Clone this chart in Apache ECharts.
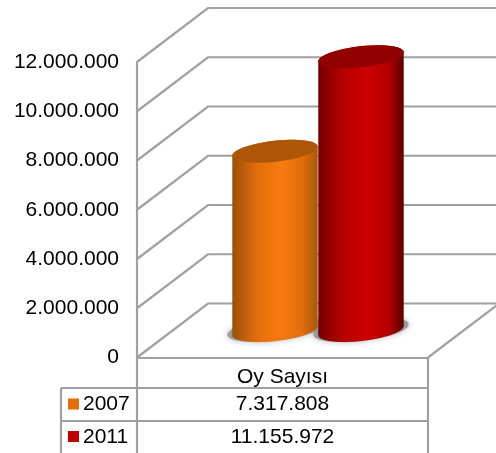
<!DOCTYPE html>
<html>
<head>
<meta charset="utf-8">
<title>Oy Sayısı</title>
<script src="https://cdn.jsdelivr.net/npm/echarts@6/dist/echarts.min.js"></script>
<style>
html, body { margin: 0; padding: 0; background: #fff; overflow: hidden; }
#chart { width: 496px; height: 453px; }
</style>
</head>
<body>
<div id="chart"></div>
<script>
var categories = ['Oy Sayısı'];
var seriesNames = ['2007', '2011'];
var votes2007 = [7317808];
var votes2011 = [11155972];
var axisTicks = [0, 2000000, 4000000, 6000000, 8000000, 10000000, 12000000];

var FONT = '"Liberation Sans", Arial, sans-serif';
var FONT_SIZE = 21;
var LINE = '#a0a0a0';
var LINE_WIDTH = 2.2;
var DEPTH_X = 71, DEPTH_Y = -54;
var BAR_RATIO = 0.2955;

var cylinderStyles = [
    { side: ['#9a5007', '#e56f0c', '#f97a10', '#e06c0b', '#a55a0c'], top: '#af5606', swatch: '#e46c0a' },
    { side: ['#760000', '#b80000', '#cc0000', '#b40000', '#5e0000'], top: '#920000', swatch: '#c00000' }
];

// dots as thousands separator
function dotted(v) {
    return String(v).replace(/\B(?=(\d{3})+$)/g, '.');
}

// points of a tilted ellipse, t in degrees
function ellipsePoints(cx, cy, a, b, from, to) {
    var tilt = 6.5 * Math.PI / 180;
    var pts = [];
    var steps = 48;
    for (var i = 0; i <= steps; i++) {
        var t = (from + (to - from) * i / steps) * Math.PI / 180;
        var u = a * Math.cos(t), v = b * Math.sin(t);
        pts.push([cx + u * Math.cos(tilt) + v * Math.sin(tilt), cy - u * Math.sin(tilt) + v * Math.cos(tilt)]);
    }
    return pts;
}

// back wall and floor lines, one item per axis tick
function renderWall(params, api) {
    var grid = params.coordSys;
    var y = api.coord([0, api.value(1)])[1];
    var left = grid.x, right = grid.x + grid.width;
    var style = { stroke: LINE, lineWidth: LINE_WIDTH, fill: null };
    var children = [{
        type: 'polyline',
        shape: { points: [[left, y], [left + DEPTH_X, y + DEPTH_Y], [right + DEPTH_X, y + DEPTH_Y]] },
        style: style
    }];
    if (api.value(1) === 0) {
        children.push({
            type: 'line',
            shape: { x1: right, y1: y, x2: right + DEPTH_X, y2: y + DEPTH_Y },
            style: style
        });
    }
    return { type: 'group', children: children };
}

function cylinderRenderer(index) {
    return function (params, api) {
        var bandWidth = api.size([1, 0])[0];
        var barWidth = bandWidth * BAR_RATIO;
        var top = api.coord([api.value(0), api.value(1)]);
        var base = api.coord([api.value(0), 0]);
        var cx = top[0] + (index - 0.5) * barWidth + DEPTH_X / 2;
        var topY = top[1] + DEPTH_Y / 2 + 1;
        var baseY = base[1] + DEPTH_Y / 2;
        var a = barWidth / 2, b = 10.5;
        var s = cylinderStyles[index];
        var body = ellipsePoints(cx, baseY, a, b, 0, 180).concat(ellipsePoints(cx, topY, a, b, 180, 360));
        var stops = [];
        var offsets = [0, 0.3, 0.58, 0.82, 1];
        for (var i = 0; i < s.side.length; i++) {
            stops.push({ offset: offsets[i], color: s.side[i] });
        }
        return {
            type: 'group',
            children: [{
                type: 'polygon',
                shape: { points: ellipsePoints(cx, baseY - 1, a + 5, b + 1, 0, 360) },
                style: { fill: 'rgba(130,130,130,0.7)', shadowBlur: 6, shadowColor: 'rgba(120,120,120,0.7)' }
            }, {
                type: 'polygon',
                shape: { points: body },
                style: { fill: new echarts.graphic.LinearGradient(0, 0, 1, 0, stops) }
            }, {
                type: 'polygon',
                shape: { points: ellipsePoints(cx, topY, a, b, 0, 360) },
                style: { fill: s.top }
            }]
        };
    };
}

// data table below the plot
function tableGraphics(grid) {
    var left = grid.left, right = grid.left + grid.width;
    var keyLeft = 61;
    var floorY = grid.top + grid.height;
    var rowY = [388, 421, 453];
    var line = { stroke: LINE, lineWidth: LINE_WIDTH };
    var els = [];
    function seg(x1, y1, x2, y2) {
        els.push({ type: 'line', shape: { x1: x1, y1: y1, x2: x2, y2: y2 }, style: line, z: 5 });
    }
    seg(left, floorY, left, rowY[2]);
    seg(right, floorY, right, rowY[2]);
    seg(keyLeft, rowY[0], keyLeft, rowY[2]);
    seg(keyLeft, rowY[0], right, rowY[0]);
    seg(keyLeft, rowY[1], right, rowY[1]);
    var rows = [votes2007, votes2011];
    for (var i = 0; i < rows.length; i++) {
        var mid = (rowY[i] + rowY[i + 1]) / 2;
        els.push({
            type: 'rect',
            shape: { x: 68, y: mid - 6, width: 11, height: 11 },
            style: { fill: cylinderStyles[i].swatch },
            z: 6
        });
        els.push({
            type: 'text',
            x: 83,
            y: mid,
            style: { text: seriesNames[i], font: FONT_SIZE + 'px ' + FONT, fill: '#000', textVerticalAlign: 'middle' },
            z: 6
        });
        els.push({
            type: 'text',
            x: (left + right) / 2,
            y: mid,
            style: { text: dotted(rows[i][0]), font: FONT_SIZE + 'px ' + FONT, fill: '#000', textAlign: 'center', textVerticalAlign: 'middle' },
            z: 6
        });
    }
    return els;
}

var gridBox = { left: 137, top: 62, width: 291, height: 295.5 };

var wallData = [];
for (var k = 0; k < axisTicks.length; k++) {
    wallData.push([0, axisTicks[k]]);
}

var chart = echarts.init(document.getElementById('chart'), null, { renderer: 'canvas' });
chart.setOption({
    animation: false,
    backgroundColor: '#fff',
    grid: gridBox,
    xAxis: {
        type: 'category',
        data: categories,
        axisLine: { show: true, lineStyle: { color: LINE, width: LINE_WIDTH } },
        axisTick: { show: false },
        axisLabel: { color: '#000', fontFamily: FONT, fontSize: FONT_SIZE, margin: 9 }
    },
    yAxis: {
        type: 'value',
        min: 0,
        max: 12000000,
        interval: 2000000,
        axisLine: { show: true, lineStyle: { color: LINE, width: LINE_WIDTH } },
        axisTick: { show: false },
        splitLine: { show: false },
        axisLabel: { color: '#000', fontFamily: FONT, fontSize: FONT_SIZE, margin: 18, padding: [2, 0, 0, 0], formatter: dotted }
    },
    graphic: tableGraphics(gridBox),
    series: [{
        type: 'custom',
        silent: true,
        clip: false,
        z: 1,
        renderItem: renderWall,
        data: wallData
    }, {
        name: seriesNames[0],
        type: 'custom',
        silent: true,
        clip: false,
        z: 2,
        renderItem: cylinderRenderer(0),
        data: [[0, votes2007[0]]]
    }, {
        name: seriesNames[1],
        type: 'custom',
        silent: true,
        clip: false,
        z: 3,
        renderItem: cylinderRenderer(1),
        data: [[0, votes2011[0]]]
    }]
});
</script>
</body>
</html>
